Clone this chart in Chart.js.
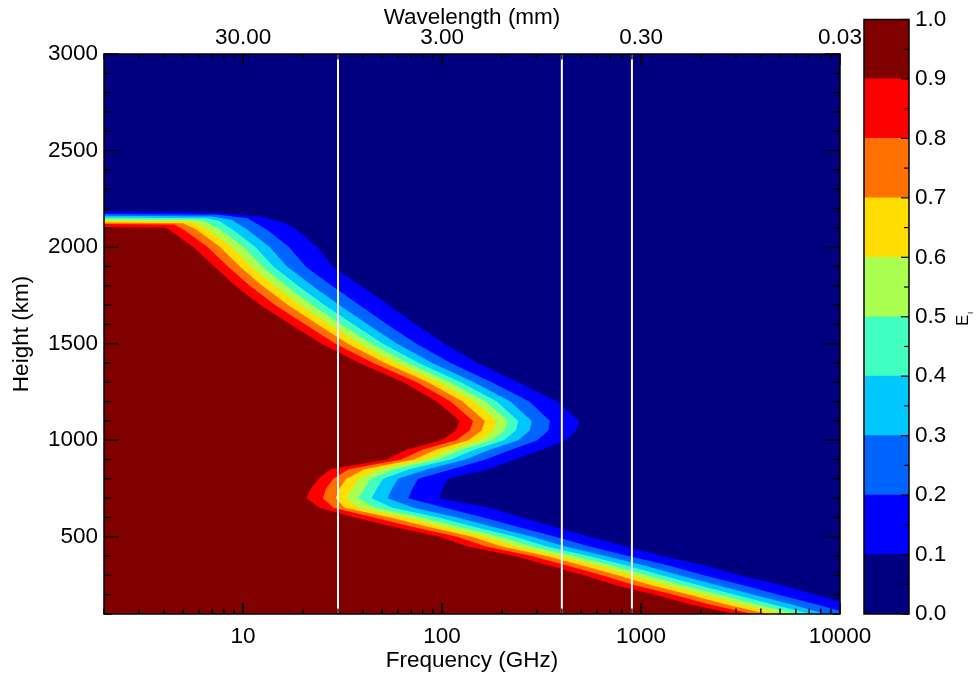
<!DOCTYPE html>
<html>
<head>
<meta charset="utf-8">
<script src="https://cdn.jsdelivr.net/npm/chart.js@4/dist/chart.umd.min.js"></script>
<style>
html,body{margin:0;padding:0;background:#ffffff;overflow:hidden}
#wrap{position:relative;width:979px;height:677px}
#main{position:absolute;left:0;top:0}
#cbar{position:absolute;left:840px;top:0}
</style>
</head>
<body>
<div id="wrap">
<canvas id="main" width="979" height="677"></canvas>
<canvas id="cbar" width="139" height="677"></canvas>
</div>
<script>
// ---------------- data ----------------
const levels = [0.0, 0.1, 0.2, 0.3, 0.4, 0.5, 0.6, 0.7, 0.8, 0.9, 1.0];

// Contour E = 0.1 (navy / blue boundary): frequency (GHz) vs height (km)
const e01Freq = [2, 5, 7.9, 12.5, 15.5, 17.7, 18.55, 23.66, 28.16, 38.95, 53.89, 73.74, 103.2, 151.2, 240.6, 378.0,
  489.5, 471.2, 419.6, 317.7, 232.3, 169.9, 106.8, 100.8, 96.80,
  173.9, 251.9, 369.3, 554.2, 841.2, 1277, 2102, 3155, 5017, 7525, 10000];
const e01Height = [2184, 2182, 2175, 2157, 2130, 2105, 2090, 2000, 1900, 1800, 1700, 1600, 1500, 1400, 1300, 1200,
  1100, 1050, 1000, 950, 900, 850, 800, 750, 700,
  650, 600, 550, 500, 450, 400, 350, 300, 250, 200, 164];

const e02Freq = [2, 7.5, 10.5, 13.22, 17.01, 20.57, 27.93, 38.33, 52.84, 74.33, 110.5, 177.5, 274.6,
  348.5, 342.1, 301.5, 221.8, 165.2, 111.8, 75.70, 71.02, 67.58,
  103.2, 161.4, 241.1, 371.5, 552.3, 863.0, 1392, 2088, 3228, 4912, 7569, 10000];
const e02Height = [2172, 2168, 2150, 2090, 2000, 1900, 1800, 1700, 1600, 1500, 1400, 1300, 1200,
  1100, 1050, 1000, 950, 900, 850, 800, 750, 700,
  650, 600, 550, 500, 450, 400, 350, 300, 250, 200, 150, 115];

const e03Freq = [2, 7.0, 8.8, 10.52, 13.61, 16.63, 22.31, 30.43, 42.21, 59.55, 89.37, 144.6, 221.2,
  281.9, 275.8, 241.4, 173.9, 131.2, 84.33, 60.03, 56.06, 53.29,
  72.03, 119.5, 180.8, 283.9, 415.8, 662.8, 1052, 1579, 2402, 3686, 5646, 8453];
const e03Height = [2162, 2159, 2140, 2090, 2000, 1900, 1800, 1700, 1600, 1500, 1400, 1300, 1200,
  1100, 1050, 1000, 950, 900, 850, 800, 750, 700,
  650, 600, 550, 500, 450, 400, 350, 300, 250, 200, 150, 100];

const e04Freq = [2, 6.5, 7.6, 8.88, 11.53, 14.21, 18.88, 25.67, 35.72, 50.56, 76.33, 124.3, 188.6,
  241.4, 235.0, 204.5, 145.3, 110.6, 68.36, 50.57, 47.07, 44.26,
  56.45, 95.70, 146.1, 232.3, 336.6, 544.7, 856.1, 1285, 1928, 2977, 4545, 7102];
const e04Height = [2153, 2150, 2135, 2090, 2000, 1900, 1800, 1700, 1600, 1500, 1400, 1300, 1200,
  1100, 1050, 1000, 950, 900, 850, 800, 750, 700,
  650, 600, 550, 500, 450, 400, 350, 300, 250, 200, 150, 100];

const e05Freq = [2, 6.2, 7.72, 10.06, 12.48, 16.44, 22.28, 31.11, 44.16, 67.05, 109.6, 165.2,
  214.9, 205.9, 178.3, 125.2, 96.03, 57.52, 43.85, 40.72, 37.84,
  46.37, 79.58, 122.5, 197.0, 282.9, 463.1, 722.0, 1083, 1607, 2496, 3798, 6040];
const e05Height = [2145, 2140, 2090, 2000, 1900, 1800, 1700, 1600, 1500, 1400, 1300, 1200,
  1100, 1050, 1000, 950, 900, 850, 800, 750, 700,
  650, 600, 550, 500, 450, 400, 350, 300, 250, 200, 150, 100];

const e06Freq = [2, 5.5, 6.72, 8.77, 10.96, 14.34, 19.36, 27.13, 38.55, 58.87, 96.58, 144.7,
  187.9, 180.4, 155.5, 108.0, 83.44, 48.39, 38.07, 35.23, 32.93,
  38.51, 66.25, 102.7, 167.0, 237.8, 394.2, 608.0, 912.6, 1341, 2093, 3174, 5133];
const e06Height = [2136, 2132, 2090, 2000, 1900, 1800, 1700, 1600, 1500, 1400, 1300, 1200,
  1100, 1050, 1000, 950, 900, 850, 800, 750, 700,
  650, 600, 550, 500, 450, 400, 350, 300, 250, 200, 150, 100];

const e07Freq = [2, 5.0, 5.84, 7.66, 9.63, 12.50, 16.81, 23.63, 33.67, 51.69, 85.21, 126.8,
  164.1, 158.1, 135.8, 92.96, 72.44, 40.72, 33.01, 30.47, 29.23,
  32.36, 55.10, 86.10, 141.6, 199.8, 335.1, 512.8, 769.5, 1118, 1754, 2651, 4315];
const e07Height = [2127, 2124, 2090, 2000, 1900, 1800, 1700, 1600, 1500, 1400, 1300, 1200,
  1100, 1050, 1000, 950, 900, 850, 800, 750, 700,
  650, 600, 550, 500, 450, 400, 350, 300, 250, 200, 150, 100];

const e08Freq = [2, 4.5, 5.04, 6.63, 8.40, 10.81, 14.49, 20.45, 29.19, 45.10, 74.67, 110.4,
  143.2, 137.5, 117.6, 79.49, 62.46, 33.90, 28.43, 26.15, 25.19,
  28.49, 45.41, 71.53, 119.0, 166.3, 282.6, 428.6, 642.8, 923.2, 1457, 2194, 3626];
const e08Height = [2119, 2117, 2090, 2000, 1900, 1800, 1700, 1600, 1500, 1400, 1300, 1200,
  1100, 1050, 1000, 950, 900, 850, 800, 750, 700,
  650, 600, 550, 500, 450, 400, 350, 300, 250, 200, 150, 100];

const e09Freq = [2, 4.0, 4.26, 5.62, 7.17, 9.15, 12.22, 17.31, 24.79, 38.51, 64.13, 94.04,
  122.8, 117.2, 99.65, 66.41, 52.68, 27.52, 23.94, 21.95, 20.83,
  24.22, 36.34, 57.79, 97.36, 134.7, 232.3, 348.6, 523.1, 740.6, 1178, 1767, 2977];
const e09Height = [2103, 2102, 2090, 2000, 1900, 1800, 1700, 1600, 1500, 1400, 1300, 1200,
  1100, 1050, 1000, 950, 900, 850, 800, 750, 700,
  650, 600, 550, 500, 450, 400, 350, 300, 250, 200, 150, 100];

const markerFreqs = [30, 400, 900];                 // white vertical lines (GHz)
const freqRange = [2, 10000];
const heightRange = [100, 3000];
const freqTicks = [10, 100, 1000, 10000];
const freqTickLabels = ['10', '100', '1000', '10000'];
const wavelengthTickLabels = ['30.00', '3.00', '0.30', '0.03'];
const heightTicks = [500, 1000, 1500, 2000, 2500, 3000];
const heightTickLabels = ['500', '1000', '1500', '2000', '2500', '3000'];
const colorbarTicks = [0.0, 0.1, 0.2, 0.3, 0.4, 0.5, 0.6, 0.7, 0.8, 0.9, 1.0];
const colorbarTickLabels = ['0.0', '0.1', '0.2', '0.3', '0.4', '0.5', '0.6', '0.7', '0.8', '0.9', '1.0'];

// ---------------- styles ----------------
const bandColors = ['#000080', '#0000ff', '#0064ff', '#00c8ff', '#40ffc0',
                    '#aaff50', '#ffdd00', '#ff7000', '#ff0000', '#800000'];
const FONT = "'Liberation Sans', Arial, Helvetica, sans-serif";
Chart.defaults.font.family = FONT;
Chart.defaults.color = '#000';

// ---------------- build datasets ----------------
const contours = [
  [e01Freq, e01Height], [e02Freq, e02Height], [e03Freq, e03Height],
  [e04Freq, e04Height], [e05Freq, e05Height], [e06Freq, e06Height],
  [e07Freq, e07Height], [e08Freq, e08Height], [e09Freq, e09Height]
];

function regionPolygon(freqs, heights) {
  const pts = freqs.map((f, i) => ({x: f, y: heights[i]}));
  const last = pts[pts.length - 1];
  if (last.x >= freqRange[1]) pts.push({x: freqRange[1], y: heightRange[0]});
  pts.push({x: freqRange[0], y: heightRange[0]});
  return pts;
}

const datasets = [];
datasets.push({
  data: [{x: freqRange[0], y: heightRange[0]}, {x: freqRange[0], y: heightRange[1]},
         {x: freqRange[1], y: heightRange[1]}, {x: freqRange[1], y: heightRange[0]}],
  fill: 'shape', backgroundColor: bandColors[0], borderWidth: 0, pointRadius: 0, order: 50
});
contours.forEach(([f, h], i) => {
  datasets.push({
    data: regionPolygon(f, h),
    fill: 'shape', backgroundColor: bandColors[i + 1], borderWidth: 0,
    pointRadius: 0, tension: 0, order: 40 - i
  });
});
markerFreqs.forEach(f => {
  datasets.push({
    data: [{x: f, y: heightRange[0]}, {x: f, y: heightRange[1]}],
    fill: false, borderColor: '#ffffff', borderWidth: 2, pointRadius: 0, order: 0
  });
});

function seg(ctx, x1, y1, x2, y2) { ctx.beginPath(); ctx.moveTo(x1, y1); ctx.lineTo(x2, y2); ctx.stroke(); }

const framePlugin = {
  id: 'frameTicks',
  afterDatasetsDraw(chart) {
    const {ctx, chartArea: a, scales} = chart;
    const xs = scales.x, ys = scales.y;
    ctx.save();
    ctx.strokeStyle = '#000';
    ctx.lineWidth = 1.4;
    for (let v = heightRange[0]; v <= heightRange[1]; v += 100) {
      const p = ys.getPixelForValue(v);
      const len = heightTicks.includes(v) ? 15 : 7.5;
      seg(ctx, a.left, p, a.left + len, p);
      seg(ctx, a.right, p, a.right - len, p);
    }
    for (let d = 1; d <= 1000; d *= 10) {
      for (let m = 1; m <= 10; m++) {
        const v = m * d;
        if (v < freqRange[0] || v > freqRange[1]) continue;
        const p = xs.getPixelForValue(v);
        const len = freqTicks.includes(v) ? 11 : 5.5;
        seg(ctx, p, a.bottom, p, a.bottom - len);
        seg(ctx, p, a.top, p, a.top + len);
      }
    }
    ctx.lineWidth = 1.5;
    ctx.strokeRect(a.left, a.top, a.right - a.left, a.bottom - a.top);
    ctx.restore();
  }
};

const tickFont = {size: 22.5, family: FONT};
const titleFont = {size: 22.5, family: FONT};

new Chart(document.getElementById('main'), {
  type: 'line',
  data: {datasets},
  options: {
    responsive: false, animation: false, devicePixelRatio: 1,
    layout: {padding: {left: 0, right: 139, top: 0, bottom: 0}},
    plugins: {legend: {display: false}, tooltip: {enabled: false}},
    scales: {
      x: {
        type: 'logarithmic', position: 'bottom', min: freqRange[0], max: freqRange[1],
        afterBuildTicks: s => { s.ticks = freqTicks.map(v => ({value: v})); },
        afterFit: s => { s.height = 63; },
        ticks: {autoSkip: false, maxRotation: 0, minRotation: 0, padding: 9, font: tickFont, color: '#000',
                callback: (v, i) => freqTickLabels[i]},
        grid: {display: false, drawTicks: false}, border: {display: false},
        title: {display: true, text: 'Frequency (GHz)', font: titleFont, color: '#000', padding: {top: 0, bottom: 3}}
      },
      x2: {
        type: 'logarithmic', position: 'top', min: freqRange[0], max: freqRange[1],
        afterBuildTicks: s => { s.ticks = freqTicks.map(v => ({value: v})); },
        afterFit: s => { s.height = 54; },
        ticks: {autoSkip: false, maxRotation: 0, minRotation: 0, padding: 3, font: tickFont, color: '#000',
                callback: (v, i) => wavelengthTickLabels[i]},
        grid: {display: false, drawTicks: false}, border: {display: false},
        title: {display: true, text: 'Wavelength (mm)', font: titleFont, color: '#000', padding: {top: 4, bottom: 0}}
      },
      y: {
        type: 'linear', position: 'left', min: heightRange[0], max: heightRange[1],
        afterBuildTicks: s => { s.ticks = heightTicks.map(v => ({value: v})); },
        afterFit: s => { s.width = 104; },
        ticks: {autoSkip: false, padding: 6, font: tickFont, color: '#000',
                callback: (v, i) => heightTickLabels[i]},
        grid: {display: false, drawTicks: false}, border: {display: false},
        title: {display: true, text: 'Height (km)', font: titleFont, color: '#000', padding: {top: 8, bottom: 0}}
      }
    }
  },
  plugins: [framePlugin]
});

// ---------------- colour bar ----------------
const cbPlugin = {
  id: 'cbFrame',
  afterDatasetsDraw(chart) {
    const {ctx, chartArea: a, scales: {y}} = chart;
    ctx.save();
    ctx.strokeStyle = '#000';
    ctx.lineWidth = 1.2;
    for (let i = 0; i <= 20; i++) {
      const p = y.getPixelForValue(i * 0.05);
      seg(ctx, a.right, p, a.right - (i % 2 === 0 ? 8 : 5), p);
    }
    ctx.lineWidth = 1.5;
    ctx.strokeRect(a.left, a.top, a.right - a.left, a.bottom - a.top);
    // axis title: E with subscript, rotated
    ctx.fillStyle = '#000';
    ctx.translate(a.right + 58.5, 326);
    ctx.rotate(-Math.PI / 2);
    ctx.textAlign = 'left';
    ctx.textBaseline = 'alphabetic';
    ctx.font = '17px ' + FONT;
    ctx.fillText('E', 0, 0);
    ctx.font = '8px ' + FONT;
    ctx.fillText('I', 12, 5);
    ctx.restore();
  }
};

const cbDatasets = bandColors.map((c, i) => ({
  data: [levels[i + 1] - levels[i]],
  backgroundColor: c, borderWidth: 0, barPercentage: 1, categoryPercentage: 1
}));

new Chart(document.getElementById('cbar'), {
  type: 'bar',
  data: {labels: [''], datasets: cbDatasets},
  options: {
    responsive: false, animation: false, devicePixelRatio: 1,
    layout: {padding: {left: 24, right: 0, top: 19, bottom: 63}},
    plugins: {legend: {display: false}, tooltip: {enabled: false}},
    scales: {
      x: {display: false, stacked: true},
      y: {
        stacked: true, position: 'right', min: 0, max: 1,
        afterBuildTicks: s => { s.ticks = colorbarTicks.map(v => ({value: v})); },
        afterFit: s => { s.width = 70; },
        ticks: {autoSkip: false, padding: 6, font: tickFont, color: '#000',
                callback: (v, i) => colorbarTickLabels[i]},
        grid: {display: false, drawTicks: false}, border: {display: false}
      }
    }
  },
  plugins: [cbPlugin]
});
</script>
</body>
</html>
